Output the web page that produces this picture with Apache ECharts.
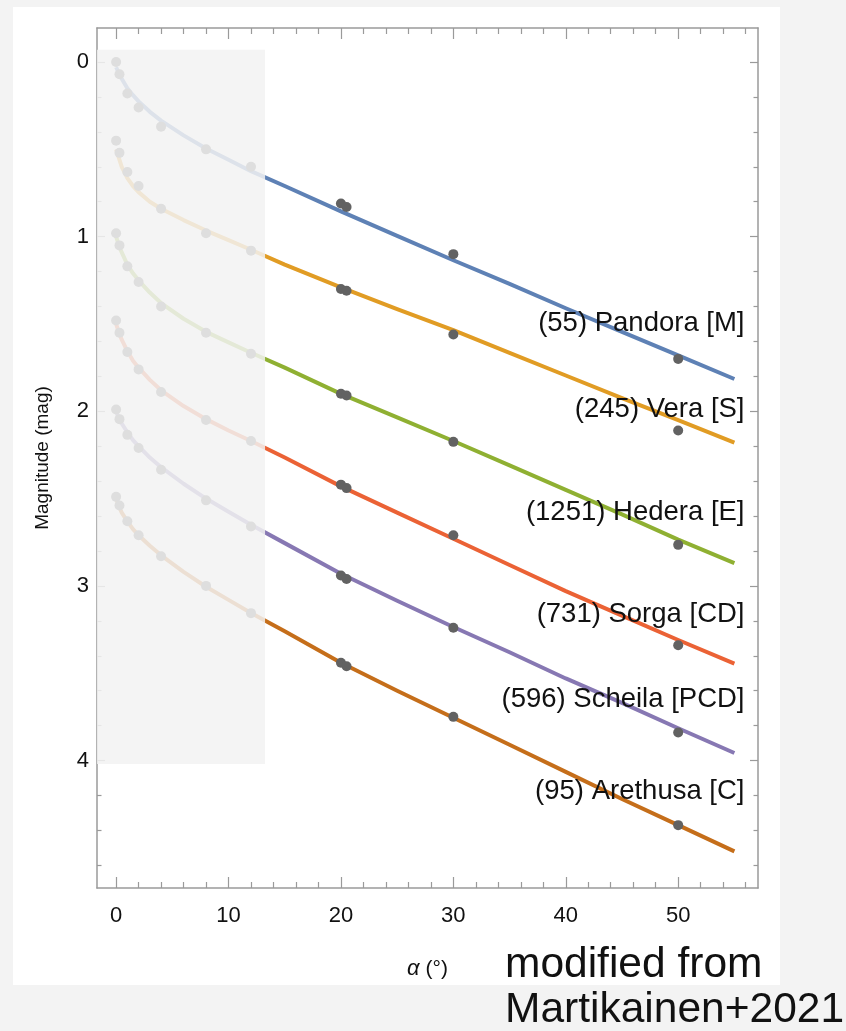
<!DOCTYPE html>
<html>
<head>
<meta charset="utf-8">
<script src="https://cdn.jsdelivr.net/npm/echarts@6/dist/echarts.min.js"></script>
<style>
  html, body { margin: 0; padding: 0; background: #f3f3f3; }
  #chart { width: 846px; height: 1031px; }
</style>
</head>
<body>
<div id="chart"></div>
<script>
// Phase angle samples for the fitted phase curves (deg)
const alphaFit = [0, 0.25, 0.5, 1, 1.5, 2, 3, 4, 6, 8, 10, 12, 15, 20, 25, 30, 35, 40, 45, 50, 55];
// Fitted curves (mag, offset per object)
const fitPandora  = [0.03, 0.065, 0.095, 0.15, 0.19, 0.225, 0.285, 0.335, 0.42, 0.495, 0.56, 0.625, 0.71, 0.855, 0.995, 1.135, 1.27, 1.41, 1.545, 1.68, 1.815];
const fitVera     = [0.50, 0.55, 0.60, 0.665, 0.71, 0.745, 0.80, 0.84, 0.905, 0.965, 1.02, 1.075, 1.16, 1.29, 1.415, 1.535, 1.665, 1.795, 1.925, 2.05, 2.18];
const fitHedera   = [1.00, 1.05, 1.09, 1.16, 1.21, 1.25, 1.32, 1.38, 1.47, 1.545, 1.605, 1.665, 1.75, 1.90, 2.035, 2.17, 2.31, 2.45, 2.59, 2.735, 2.87];
const fitSorga    = [1.50, 1.55, 1.59, 1.655, 1.71, 1.75, 1.82, 1.88, 1.97, 2.045, 2.11, 2.17, 2.265, 2.43, 2.58, 2.73, 2.88, 3.03, 3.17, 3.31, 3.445];
const fitScheila  = [2.00, 2.04, 2.07, 2.12, 2.165, 2.20, 2.265, 2.32, 2.415, 2.50, 2.575, 2.65, 2.755, 2.93, 3.085, 3.235, 3.38, 3.53, 3.67, 3.815, 3.957];
const fitArethusa = [2.50, 2.545, 2.58, 2.63, 2.675, 2.71, 2.77, 2.825, 2.92, 3.005, 3.08, 3.155, 3.26, 3.44, 3.60, 3.755, 3.91, 4.065, 4.22, 4.37, 4.52];

// Observed phase angles (deg) and magnitudes
const alphaObs = [0, 0.3, 1, 2, 4, 8, 12, 20, 20.5, 30, 50];
const obsPandora  = [0.00, 0.07, 0.18, 0.26, 0.37, 0.50, 0.60, 0.81, 0.83, 1.10, 1.70];
const obsVera     = [0.45, 0.52, 0.63, 0.71, 0.84, 0.98, 1.08, 1.30, 1.31, 1.56, 2.11];
const obsHedera   = [0.98, 1.05, 1.17, 1.26, 1.40, 1.55, 1.67, 1.90, 1.91, 2.175, 2.765];
const obsSorga    = [1.48, 1.55, 1.66, 1.76, 1.89, 2.05, 2.17, 2.42, 2.44, 2.71, 3.34];
const obsScheila  = [1.99, 2.045, 2.135, 2.21, 2.335, 2.51, 2.66, 2.94, 2.96, 3.24, 3.84];
const obsArethusa = [2.49, 2.54, 2.63, 2.71, 2.83, 3.00, 3.156, 3.44, 3.46, 3.75, 4.37];

// Object names and label anchors (right edge of label)
const names = ['(55) Pandora [M]', '(245) Vera [S]', '(1251) Hedera [E]', '(731) Sorga [CD]', '(596) Scheila [PCD]', '(95) Arethusa [C]'];
const labelAlpha = 55.9;
const labelMag = [1.494, 1.99, 2.58, 3.165, 3.65, 4.177];

// Low phase-angle region that is greyed out: [alpha0, alpha1, mag0, mag1]
const shadeBox = [-1.7, 13.25, -0.07, 4.02];

// Axis ranges and ticks
const xRange = [-1.7, 57.1];
const yRange = [-0.195, 4.73];
const xMajor = [0, 10, 20, 30, 40, 50];
const xMinor = [2, 4, 6, 8, 12, 14, 16, 18, 22, 24, 26, 28, 32, 34, 36, 38, 42, 44, 46, 48, 52, 54, 56];
const yMajor = [0, 1, 2, 3, 4];
const yMinor = [0.2, 0.4, 0.6, 0.8, 1.2, 1.4, 1.6, 1.8, 2.2, 2.4, 2.6, 2.8, 3.2, 3.4, 3.6, 3.8, 4.2, 4.4, 4.6];

const fits = [fitPandora, fitVera, fitHedera, fitSorga, fitScheila, fitArethusa];
const obs = [obsPandora, obsVera, obsHedera, obsSorga, obsScheila, obsArethusa];
const colors = ['#5e81b5', '#e19c24', '#8fb032', '#eb6235', '#8778b3', '#c56e1a'];

const FONT = '"Liberation Sans", Arial, Helvetica, sans-serif';
const FRAME = '#9a9a9a';
const INK = '#111111';

function xAxisDef(pos, ticks, len, showLine, showLabels, extra) {
  return Object.assign({
    type: 'value', position: pos, min: xRange[0], max: xRange[1],
    axisLine: { show: showLine, onZero: false, lineStyle: { color: FRAME, width: 1.5 } },
    axisTick: { show: true, inside: true, length: len, customValues: ticks, lineStyle: { color: FRAME, width: 1.2 } },
    axisLabel: showLabels
      ? { show: true, customValues: ticks, margin: 17, color: INK, fontSize: 22, fontFamily: FONT }
      : { show: false },
    splitLine: { show: false }
  }, extra || {});
}
function yAxisDef(pos, ticks, len, showLine, showLabels, extra) {
  return Object.assign({
    type: 'value', position: pos, inverse: true, min: yRange[0], max: yRange[1],
    axisLine: { show: showLine, onZero: false, lineStyle: { color: FRAME, width: 1.5 } },
    axisTick: { show: true, inside: true, length: len, customValues: ticks, lineStyle: { color: FRAME, width: 1.2 } },
    axisLabel: showLabels
      ? { show: true, customValues: ticks, margin: 8, color: INK, fontSize: 22, fontFamily: FONT }
      : { show: false },
    splitLine: { show: false }
  }, extra || {});
}

const series = [];
fits.forEach((f, i) => {
  series.push({
    type: 'line', name: names[i], xAxisIndex: 0, yAxisIndex: 0,
    data: alphaFit.map((a, k) => [a, f[k]]),
    smooth: false, showSymbol: false, silent: true,
    lineStyle: { color: colors[i], width: 4, join: 'round', cap: 'butt' }, z: 2
  });
});
obs.forEach((o, i) => {
  series.push({
    type: 'scatter', xAxisIndex: 0, yAxisIndex: 0,
    data: alphaObs.map((a, k) => [a, o[k]]),
    symbolSize: 10, itemStyle: { color: '#626262', opacity: 1 }, silent: true, z: 3
  });
});
// grey veil over the low phase-angle region
series.push({
  type: 'custom', xAxisIndex: 0, yAxisIndex: 0, z: 10, silent: true,
  data: [shadeBox],
  encode: { x: [0, 1], y: [2, 3] },
  renderItem: function (params, api) {
    const p0 = api.coord([api.value(0), api.value(2)]);
    const p1 = api.coord([api.value(1), api.value(3)]);
    return {
      type: 'rect',
      shape: { x: p0[0], y: p0[1], width: p1[0] - p0[0], height: p1[1] - p0[1] },
      style: { fill: 'rgba(242,242,242,0.86)' }
    };
  }
});
// object labels
series.push({
  type: 'scatter', xAxisIndex: 0, yAxisIndex: 0, z: 12, silent: true,
  symbolSize: 0, itemStyle: { opacity: 1 },
  data: names.map((n, i) => ({ value: [labelAlpha, labelMag[i]], name: n })),
  label: {
    show: true, position: 'left', distance: 0, formatter: '{b}',
    color: INK, opacity: 1, fontSize: 27.5, fontFamily: FONT
  }
});

const chart = echarts.init(document.getElementById('chart'), null, { renderer: 'canvas' });
chart.setOption({
  animation: false,
  backgroundColor: '#f3f3f3',
  grid: { left: 97, top: 28, right: 88, bottom: 143, containLabel: false, outerBoundsMode: 'none' },
  graphic: [
    { type: 'rect', z: -10, shape: { x: 13, y: 7, width: 767, height: 978 }, style: { fill: '#ffffff' } },
    { type: 'text', z: 20, left: 505, top: 944, style: { text: 'modified from', fill: INK, font: '42.5px ' + FONT } },
    { type: 'text', z: 20, left: 505, top: 989, style: { text: 'Martikainen+2021', fill: INK, font: '42.5px ' + FONT } }
  ],
  xAxis: [
    xAxisDef('bottom', xMajor, 11, true, true, {
      name: '{a|α} (°)', nameLocation: 'middle', nameGap: 70,
      nameTextStyle: {
        color: INK, fontSize: 21, fontFamily: FONT,
        rich: { a: { fontStyle: 'italic', fontSize: 22, fontFamily: FONT, color: INK } }
      }
    }),
    xAxisDef('bottom', xMinor, 6, false, false),
    xAxisDef('top', xMajor, 11, true, false),
    xAxisDef('top', xMinor, 6, false, false)
  ],
  yAxis: [
    yAxisDef('left', yMajor, 8, true, true, {
      name: 'Magnitude (mag)', nameLocation: 'middle', nameGap: 45,
      nameTextStyle: { color: INK, fontSize: 19, fontFamily: FONT }
    }),
    yAxisDef('left', yMinor, 4.5, false, false),
    yAxisDef('right', yMajor, 8, true, false),
    yAxisDef('right', yMinor, 4.5, false, false)
  ],
  series: series
});
</script>
</body>
</html>
